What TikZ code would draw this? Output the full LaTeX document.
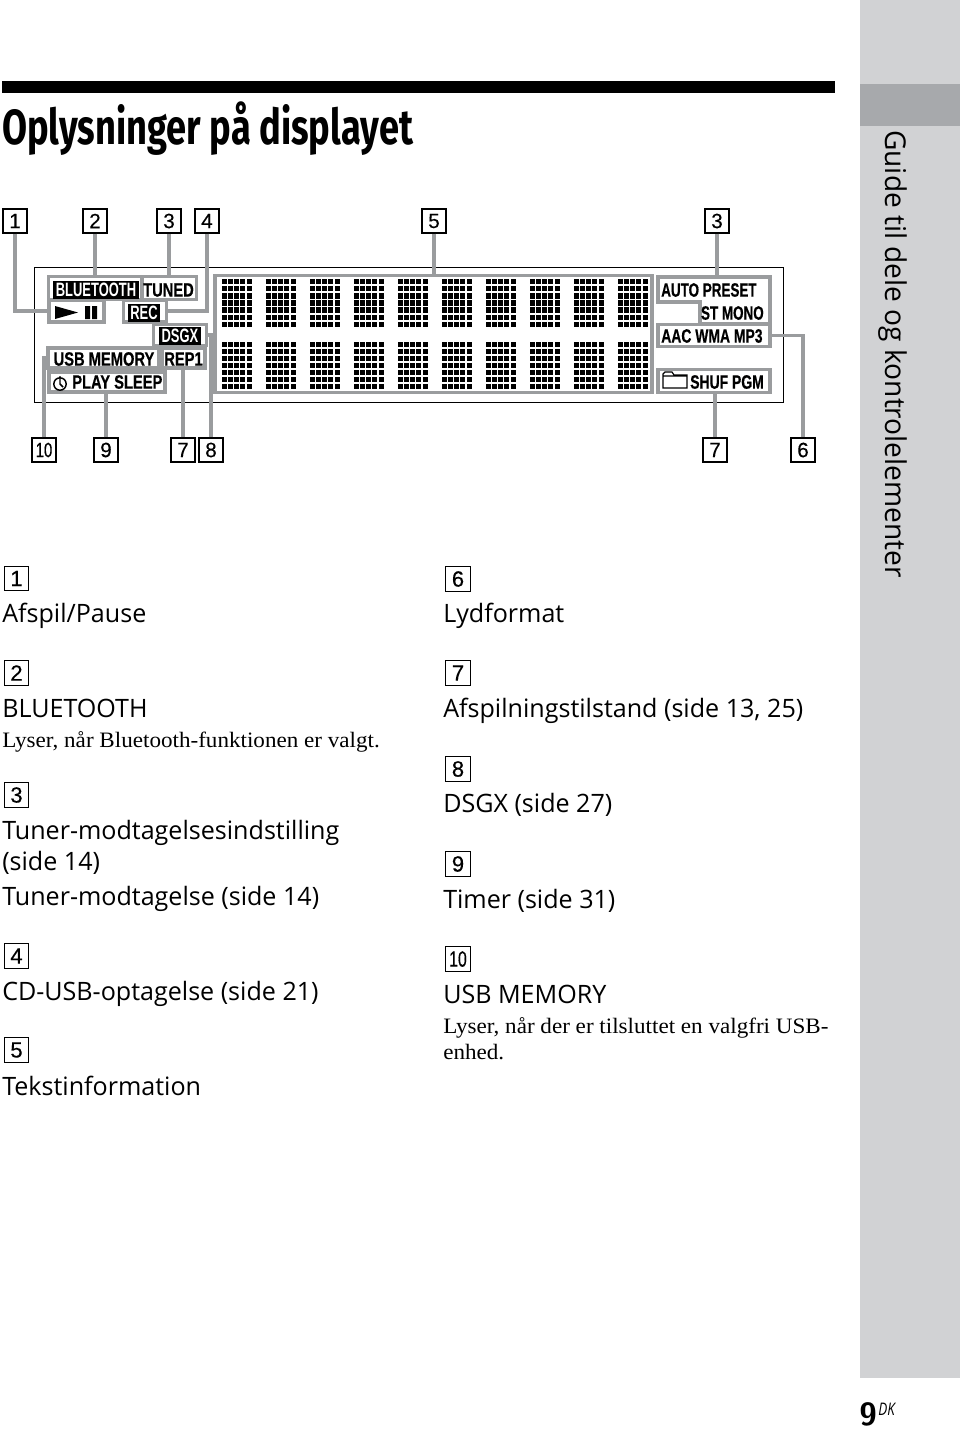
\documentclass[tikz,border=0pt]{standalone}
\usepackage{fontspec}
\setmainfont{Open Sans}
\newfontfamily\bodyf{Open Sans}[FakeStretch=0.99]
\newfontfamily\sidef{Open Sans}[FakeStretch=0.98]
\newfontfamily\serf{Liberation Serif}[FakeStretch=1.05]
\newfontfamily\lcdf{Liberation Sans}[FakeStretch=0.76,FakeBold=0.5]
\newfontfamily\lcdnf{Liberation Sans}[FakeStretch=0.695,FakeBold=0.5]
\newfontfamily\lcdmf{Liberation Sans}[FakeStretch=0.72,FakeBold=0.5]
\newfontfamily\lcdif{Liberation Sans}[FakeStretch=0.67]
\newfontfamily\titlef{Fira Sans}[FakeStretch=0.735]
\newfontfamily\labf{Liberation Sans}[FakeBold=0.35]
\newfontfamily\labtenf{Liberation Sans}[FakeStretch=0.72,FakeBold=0.35]
\newfontfamily\dkf{Open Sans}[FakeStretch=0.78]
\definecolor{band}{HTML}{D1D2D4}
\definecolor{banddark}{HTML}{A7A9AC}
\definecolor{grp}{HTML}{9A9C9E}
\tikzset{
 x=0.75pt,y=-0.75pt,
 lab/.style={draw=black,line width=0.8pt,fill=white,minimum width=18pt,minimum height=18pt,inner sep=0pt,font=\fontsize{15.5}{15.5}\selectfont\labf},
 grpbox/.style={draw=grp,line width=2.6pt,fill=white,inner sep=0pt},
 conn/.style={draw=grp,line width=2.6pt},
 lcd/.style={font=\fontsize{14.5}{14.5}\selectfont\bfseries\lcdf,inner sep=0pt,text=black},
 lcdn/.style={lcd,font=\fontsize{14.5}{14.5}\selectfont\bfseries\lcdnf},
 lcdm/.style={lcd,font=\fontsize{14.5}{14.5}\selectfont\bfseries\lcdmf},
 lcdinv/.style={font=\fontsize{14.5}{14.5}\selectfont\bfseries\lcdif,text=white,fill=black,inner xsep=2pt,inner ysep=1.6pt},
 body/.style={anchor=base west,inner sep=0pt,font=\fontsize{19}{19}\selectfont\bodyf},
 note/.style={anchor=base west,inner sep=0pt,font=\fontsize{16.5}{16.5}\selectfont\serf},
 num/.style={lab,minimum width=18.5pt,minimum height=18.5pt,font=\fontsize{16.5}{16.5}\selectfont\labf},
}
\begin{document}
\begin{tikzpicture}
\useasboundingbox (0,0) rectangle (960,1429);
\fill[white] (0,0) rectangle (960,1429);
\fill[band] (860,0) rectangle (960,1378);
\fill[banddark] (860,84) rectangle (960,126);
\fill[black] (2,81) rectangle (835,93);
\node[anchor=base west,inner sep=0pt,font=\fontsize{37}{37}\selectfont\bfseries\titlef] (title) at (2,144) {Oplysninger på displayet};
\node[rotate=-90,anchor=base west,inner sep=0pt,font=\fontsize{21.5}{21.5}\selectfont\sidef] (side) at (885,130) {Guide til dele og kontrolelementer};
\node[anchor=base west,inner sep=0pt,font=\fontsize{24}{24}\selectfont\bfseries\sffamily] (pg) at (859,1425) {9};
\node[anchor=base west,inner sep=0pt,font=\fontsize{13}{13}\selectfont\itshape\dkf] (dk) at (878,1415) {DK};
% display
\node[draw=black,line width=1pt,minimum width=562pt,minimum height=101pt,inner sep=0pt] (disp) at (409,335) {};
\node[grpbox,minimum width=328pt,minimum height=88pt] (panel) at (433.5,334) {};
\foreach \c in {0,...,9}{\foreach \r in {0,1}{\foreach \i in {0,...,4}{\foreach \j in {0,...,6}{
 \fill[black] ({221.5+44*\c+6.25*\i},{279+62.5*\r+7.1*\j}) rectangle +(5,5.3);
}}}}
% groups left
\node[grpbox,minimum width=111pt,minimum height=17pt] (blue) at (122.5,288) {};
\draw[conn] (142,276) -- (142,300);
\node[grpbox,minimum width=41pt,minimum height=16.5pt] (play) at (76.5,311) {};
\node[grpbox,minimum width=32pt,minimum height=16.5pt] (rec) at (145,311) {};
\node[grpbox,minimum width=40pt,minimum height=16pt] (dsgx) at (180,335) {};
\node[grpbox,minimum width=83pt,minimum height=15pt] (usb) at (103.5,358) {};
\node[grpbox,minimum width=32pt,minimum height=15pt] (rep) at (183.5,358) {};
\node[grpbox,minimum width=87pt,minimum height=15pt] (sleep) at (107,382) {};
% lcd texts left
\node[lcdinv] (tblue) at (96,290) {BLUETOOTH};
\node[lcd] (ttuned) at (168.5,290) {TUNED};
\fill[black] (55,306) -- (78,312.5) -- (55,319) -- cycle;
\fill[black] (85,306) rectangle (90,319) (92,306) rectangle (97,319);
\node[lcdinv] (trec) at (144,313) {REC};
\node[lcdinv] (tdsgx) at (180,336) {DSGX};
\node[lcd] (tusb) at (104,359) {USB MEMORY};
\node[lcd] (trep) at (183.5,359) {REP1};
\node[lcd,anchor=west] (tplay) at (72,382) {PLAY SLEEP};
\draw[black,line width=1.1pt] (60,384) circle (6.2);
\draw[black,line width=1.1pt] (60,376) -- (60,384) -- (63,387);
% groups right
\draw[draw=grp,line width=2.6pt,fill=white] (658,277) -- (770,277) -- (770,324) -- (700,324) -- (700,302) -- (658,302) -- cycle;
\coordinate (auto) at (717,277);
\node[grpbox,minimum width=84pt,minimum height=16.5pt] (aac) at (714,335.5) {};
\node[grpbox,minimum width=84pt,minimum height=17pt] (shuf) at (714,381) {};
\node[lcdn,anchor=west] (tauto) at (661,290) {AUTO PRESET};
\node[lcdn,anchor=east] (tst) at (764,313) {ST MONO};
\node[lcdm,anchor=west] (taac) at (661,336) {AAC WMA MP3};
\node[lcdm,anchor=west] (tshuf) at (690,382) {SHUF PGM};
\draw[black,line width=0.9pt] (663,388) -- (663,374) -- (665,372) -- (672,372) -- (674,375) -- (687,375) -- (687,388) -- cycle (663,376) -- (687,376);
% labels
\node[lab] (l1) at (15,221) {1};
\node[lab] (l2) at (95,221) {2};
\node[lab] (l3) at (169,221) {3};
\node[lab] (l4) at (207,221) {4};
\node[lab] (l5) at (434,221) {5};
\node[lab] (l3b) at (717,221) {3};
\node[lab,font=\fontsize{15.5}{15.5}\selectfont\labtenf] (l10) at (44,450) {10};
\node[lab] (l9) at (106,450) {9};
\node[lab] (l7) at (183,450) {7};
\node[lab] (l8) at (211,450) {8};
\node[lab] (l7b) at (715,450) {7};
\node[lab] (l6) at (803,450) {6};
% connectors
\draw[conn] (l1.south) |- (play.west);
\draw[conn] (l2.south) -- (l2.south |- blue.north);
\draw[conn] (l3.south) -- (l3.south |- blue.north);
\draw[conn] (l4.south) |- (rec.east);
\draw[conn] (l5.south) -- (l5.south |- panel.north);
\draw[conn] (l3b.south) -- (auto);
\draw[conn] (l10.north) |- (usb.west);
\draw[conn] (l9.north) -- (l9.north |- sleep.south);
\draw[conn] (l7.north) -- (l7.north |- rep.south);
\draw[conn] (l8.north) |- (dsgx.east);
\draw[conn] (l7b.north) -- (l7b.north |- shuf.south);
\draw[conn] (l6.north) |- (aac.east);
% left column
\node[num] (n1) at (16.5,578.5) {1};
\node[body] (a1) at (2,622) {Afspil/Pause};
\node[num] (n2) at (16.5,673) {2};
\node[body] (a2) at (2,717) {BLUETOOTH};
\node[note] (a2b) at (2,747) {Lyser, når Bluetooth-funktionen er valgt.};
\node[num] (n3) at (16.5,795) {3};
\node[body] (a3) at (2,839) {Tuner-modtagelsesindstilling};
\node[body] (a3b) at (2,870) {(side 14)};
\node[body] (a3c) at (2,905) {Tuner-modtagelse (side 14)};
\node[num] (n4) at (16.5,956) {4};
\node[body] (a4) at (2,1000) {CD-USB-optagelse (side 21)};
\node[num] (n5) at (16.5,1050) {5};
\node[body] (a5) at (2,1095) {Tekstinformation};
% right column
\node[num] (n6) at (458,579) {6};
\node[body] (b6) at (443,622) {Lydformat};
\node[num] (n7) at (458,673) {7};
\node[body] (b7) at (443,717) {Afspilningstilstand (side 13, 25)};
\node[num] (n8) at (458,769) {8};
\node[body] (b8) at (443,812) {DSGX (side 27)};
\node[num] (n9) at (458,864) {9};
\node[body] (b9) at (443,908) {Timer (side 31)};
\node[num,font=\fontsize{16.5}{16.5}\selectfont\labtenf] (n10) at (458,959) {10};
\node[body] (b10) at (443,1003) {USB MEMORY};
\node[note] (b10a) at (443,1033) {Lyser, når der er tilsluttet en valgfri USB-};
\node[note] (b10b) at (443,1059) {enhed.};
\end{tikzpicture}
\end{document}
